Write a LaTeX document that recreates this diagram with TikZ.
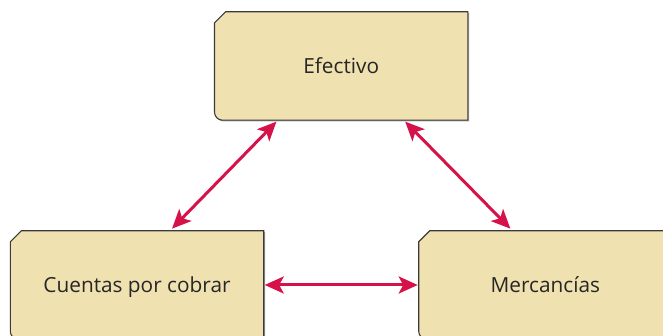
\documentclass[tikz,border=0pt]{standalone}
\usepackage{fontspec}
\setmainfont{Open Sans}
\usetikzlibrary{arrows.meta,calc,positioning,backgrounds,shadows}
\definecolor{caja}{RGB}{240,226,176}
\definecolor{borde}{RGB}{58,58,58}
\definecolor{flechacol}{RGB}{214,18,74}
\tikzset{punta/.tip={Stealth[length=19pt, width=17pt, inset=4.5pt]}}

\begin{document}
\begin{tikzpicture}[x=1pt, y=1pt,
    every node/.style={font=\fontsize{20.8}{24}\selectfont, text=black!85},
    cuenta/.style={minimum width=253pt, minimum height=108pt, inner sep=0pt,
      text height=14.5pt, text depth=0pt},
    flecha/.style={draw=flechacol, line width=3pt, {punta}-{punta}}]
  \useasboundingbox (0,0) rectangle (663,336);
  \clip (0,0) rectangle (663,336);
  % the three accounts
  \node[cuenta] (cuentas) at (137,51) {Cuentas por cobrar};
  \node[cuenta, right=155pt of cuentas] (mercancias) {Mercancías};
  \node[cuenta] (efectivo) at ($(cuentas)!0.5!(mercancias)+(0,219)$) {Efectivo};
  % boxes with cut corner behind the texts
  \begin{scope}[on background layer]
    \foreach \n in {efectivo,cuentas,mercancias}{
      \filldraw[fill=caja, draw=borde, line width=1.1pt,
          drop shadow={shadow xshift=1.3pt, shadow yshift=-1.3pt, fill=black!45, opacity=0.8}]
        ($(\n.north west)+(0,-11)$) -- ($(\n.north west)+(11,0)$) -- (\n.north east)
        -- (\n.south east) -- ($(\n.south west)+(8,0)$)
        arc[start angle=270, end angle=180, radius=8] -- cycle;
    }
  \end{scope}
  % flows between the accounts
  \draw[flecha, shorten <=2pt, shorten >=3pt]
    ($(efectivo.south west)!0.25!(efectivo.south east)$) -- ($(cuentas.north west)!0.63!(cuentas.north east)$);
  \draw[flecha, shorten <=2pt, shorten >=3pt]
    ($(efectivo.south west)!0.747!(efectivo.south east)$) -- ($(mercancias.north west)!0.37!(mercancias.north east)$);
  \draw[flecha, shorten <=1pt, shorten >=1pt] (cuentas.east) -- (mercancias.west);
\end{tikzpicture}
\end{document}
